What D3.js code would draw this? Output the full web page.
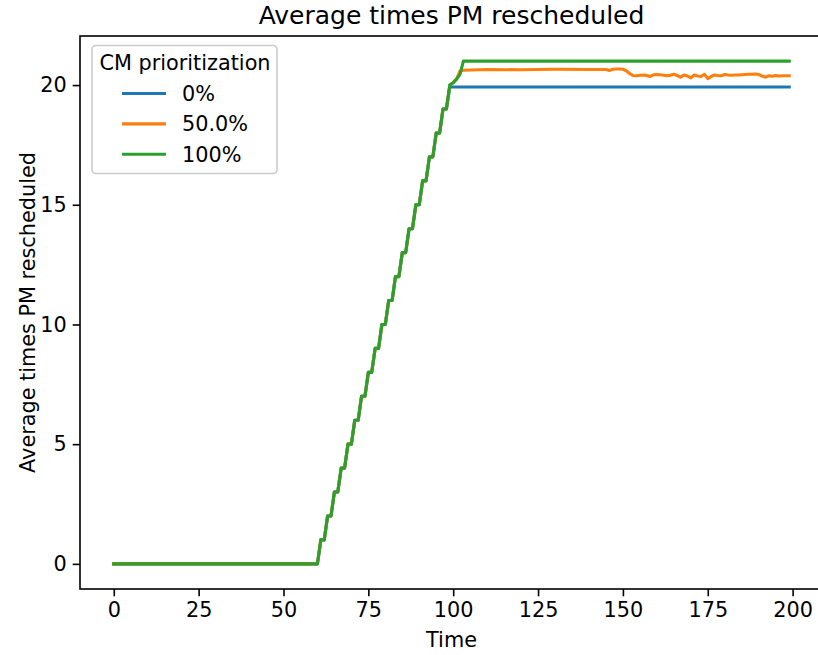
<!DOCTYPE html>
<html>
<head>
<meta charset="utf-8">
<script src="https://cdn.jsdelivr.net/npm/d3@7"></script>
<style>
  body { margin: 0; background: #fff; }
  svg { font-family: "DejaVu Sans", sans-serif; display: block; }
</style>
</head>
<body>
<svg width="818" height="655"></svg>
<script>
// shared part of the curve: flat at 0, then one step every 2 time units
const rampTime  = [0, 60, 61, 62, 63, 64, 65, 66, 67, 68, 69, 70, 71, 72, 73, 74, 75, 76, 77, 78, 79,
                   80, 81, 82, 83, 84, 85, 86, 87, 88, 89, 90, 91, 92, 93, 94, 95, 96, 97, 98];
const rampValue = [0, 0, 1, 1, 2, 2, 3, 3, 4, 4, 5, 5, 6, 6, 7, 7, 8, 8, 9, 9, 10,
                   10, 11, 11, 12, 12, 13, 13, 14, 14, 15, 15, 16, 16, 17, 17, 18, 18, 19, 19];

// tails after the ramp, per series
const blueTime   = [99, 100, 199];
const blueValue  = [19.92, 19.92, 19.92];

const orangeTime  = [99, 100, 101, 102, 103, 110, 120, 130, 140, 145,
                     146, 147, 148, 149, 150, 151, 152, 153, 154, 155, 156, 157, 158, 159, 160,
                     161, 162, 163, 164, 165, 166, 167, 168, 169, 170, 171, 172, 173, 174, 175,
                     176, 177, 178, 179, 180, 181, 182, 183, 184, 185, 186, 187, 188, 189, 190,
                     191, 192, 193, 194, 195, 196, 197, 198, 199];
const orangeValue = [20.0, 20.1, 20.25, 20.58, 20.62, 20.65, 20.64, 20.66, 20.65, 20.65,
                     20.61, 20.66, 20.67, 20.67, 20.66, 20.6, 20.48, 20.4, 20.39, 20.41, 20.42, 20.4, 20.36, 20.43, 20.44,
                     20.43, 20.41, 20.39, 20.41, 20.45, 20.4, 20.33, 20.42, 20.38, 20.3, 20.42, 20.38, 20.36, 20.45, 20.27,
                     20.36, 20.42, 20.4, 20.39, 20.44, 20.42, 20.41, 20.42, 20.42, 20.43, 20.44, 20.45, 20.45, 20.46, 20.44,
                     20.38, 20.33, 20.39, 20.37, 20.4, 20.38, 20.39, 20.39, 20.39];

const greenTime  = [99, 100, 101, 102, 103, 199];
const greenValue = [20.0, 20.1, 20.25, 20.45, 21, 21];

const seriesNames  = ["0%", "50.0%", "100%"];
const seriesColors = ["#1f77b4", "#ff7f0e", "#2ca02c"];
const xTicks = [0, 25, 50, 75, 100, 125, 150, 175, 200];
const yTicks = [0, 5, 10, 15, 20];

function build(tTail, vTail) {
  const t = rampTime.concat(tTail), v = rampValue.concat(vTail);
  return t.map((d, i) => ({ t: d, v: v[i] }));
}
const series = [
  build(blueTime, blueValue),
  build(orangeTime, orangeValue),
  build(greenTime, greenValue)
];

const svg = d3.select("svg");
const plotL = 80, plotR = 823, plotT = 36, plotB = 589;
const fs = 20.8;

const x = d3.scaleLinear().domain([-9.95, 208.95]).range([plotL, plotR]);
const y = d3.scaleLinear().domain([-1.05, 22.05]).range([plotB, plotT]);

// axes
const xAxis = svg.append("g")
  .attr("transform", "translate(0," + plotB + ")")
  .call(d3.axisBottom(x).tickValues(xTicks).tickSize(7.3).tickPadding(6));
const yAxis = svg.append("g")
  .attr("transform", "translate(" + plotL + ",0)")
  .call(d3.axisLeft(y).tickValues(yTicks).tickSize(7.3).tickPadding(6));

[xAxis, yAxis].forEach(g => {
  g.selectAll("text").attr("font-size", fs).attr("font-family", "DejaVu Sans").attr("fill", "#000");
  g.selectAll("line").attr("stroke", "#000").attr("stroke-width", 1.6);
  g.select(".domain").remove();
});

// spines
svg.append("rect")
  .attr("x", plotL).attr("y", plotT)
  .attr("width", plotR - plotL).attr("height", plotB - plotT)
  .attr("fill", "none").attr("stroke", "#000").attr("stroke-width", 1.6);

// lines
const line = d3.line().x(d => x(d.t)).y(d => y(d.v));
series.forEach((s, i) => {
  svg.append("path")
    .datum(s)
    .attr("d", line)
    .attr("fill", "none")
    .attr("stroke", seriesColors[i])
    .attr("stroke-width", 3.1)
    .attr("stroke-linejoin", "round")
    .attr("stroke-linecap", "square");
});

// titles
const midX = (plotL + plotR) / 2;
svg.append("text")
  .attr("x", midX).attr("y", 24)
  .attr("text-anchor", "middle").attr("font-size", 25)
  .text("Average times PM rescheduled");
svg.append("text")
  .attr("x", midX).attr("y", 647)
  .attr("text-anchor", "middle").attr("font-size", fs)
  .text("Time");
svg.append("text")
  .attr("transform", "translate(35," + ((plotT + plotB) / 2) + ") rotate(-90)")
  .attr("text-anchor", "middle").attr("font-size", fs)
  .text("Average times PM rescheduled");

// legend
const lg = svg.append("g");
lg.append("rect")
  .attr("x", 92).attr("y", 45.5).attr("width", 185).attr("height", 128)
  .attr("rx", 4)
  .attr("fill", "#fff").attr("fill-opacity", 0.8)
  .attr("stroke", "#cccccc").attr("stroke-width", 1.6);
lg.append("text")
  .attr("x", 185).attr("y", 70)
  .attr("text-anchor", "middle").attr("font-size", fs)
  .text("CM prioritization");
seriesNames.forEach((name, i) => {
  const yy = 93.5 + i * 30.4;
  lg.append("line")
    .attr("x1", 122).attr("x2", 166).attr("y1", yy).attr("y2", yy)
    .attr("stroke", seriesColors[i]).attr("stroke-width", 3.1);
  lg.append("text")
    .attr("x", 182).attr("y", yy)
    .attr("dy", "0.36em").attr("font-size", fs)
    .text(name);
});
</script>
</body>
</html>
